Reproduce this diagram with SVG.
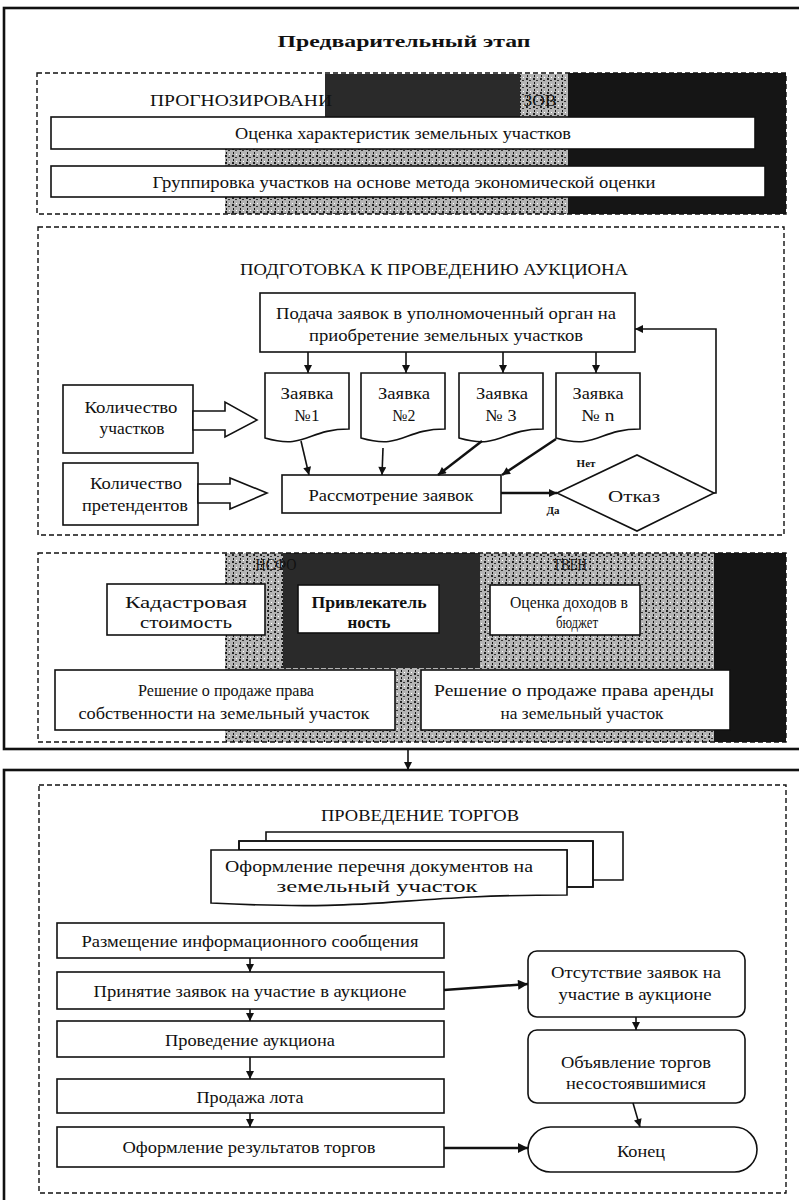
<svg xmlns="http://www.w3.org/2000/svg" width="799" height="1200" viewBox="0 0 799 1200">
<defs>
<style>
.t{font-family:"Liberation Serif","Times New Roman",serif;font-size:17px;fill:#111;text-anchor:middle}
.b{font-weight:bold}
.sm{font-size:11px;font-weight:bold}
.box{fill:#fff;stroke:#111;stroke-width:1.6}
.dash{fill:none;stroke:#111;stroke-width:1.4;stroke-dasharray:5 3}
.frame{fill:none;stroke:#111;stroke-width:2.6}
.ln{fill:none;stroke:#111;stroke-width:1.6}
.lnb{fill:none;stroke:#111;stroke-width:2.4}
.blk{fill:#fff;stroke:#111;stroke-width:1.6}
</style>
<pattern id="speck" width="7" height="7" patternUnits="userSpaceOnUse">
<rect width="7" height="7" fill="#b4b4b4"/>
<rect x="1" y="1" width="2" height="2" fill="#222"/>
<rect x="4" y="3" width="2" height="1" fill="#333"/>
<rect x="2" y="5" width="1" height="2" fill="#111"/>
<rect x="5" y="0" width="1" height="1" fill="#fff"/>
</pattern>
<marker id="ah" viewBox="0 0 10 10" refX="10" refY="5" markerWidth="9" markerHeight="8" markerUnits="userSpaceOnUse" orient="auto">
<path d="M0,0 L10,5 L0,10 Z" fill="#111"/>
</marker>
<marker id="ahL" viewBox="0 0 10 10" refX="10" refY="5" markerWidth="12" markerHeight="10" markerUnits="userSpaceOnUse" orient="auto">
<path d="M0,0 L10,5 L0,10 Z" fill="#111"/>
</marker>
</defs>

<!-- scan noise patches -->
<g id="noise">
<rect x="325" y="74" width="195" height="43" fill="#2a2a2a"/>
<rect x="520" y="74" width="48" height="43" fill="url(#speck)"/>
<rect x="225" y="148" width="475" height="18" fill="url(#speck)"/>
<rect x="225" y="197" width="465" height="17" fill="url(#speck)"/>
<rect x="568" y="73" width="218" height="141" fill="#151515"/>
<rect x="225" y="553" width="489" height="189" fill="url(#speck)"/>
<rect x="283" y="553" width="197" height="115" fill="#2a2a2a"/>
<rect x="714" y="553" width="72" height="189" fill="#151515"/>
</g>

<!-- frames -->
<rect class="frame" x="4" y="8" width="800" height="741"/>
<rect class="frame" x="4" y="770" width="800" height="440"/>

<g id="title"><text class="t b" x="404" y="47" font-size="19" textLength="253" lengthAdjust="spacingAndGlyphs">Предварительный этап</text></g>

<!-- section 1 -->
<g id="sec1">
<rect class="dash" x="37" y="73" width="749" height="141"/>
<text class="t" x="241" y="106" font-size="16" textLength="182" lengthAdjust="spacingAndGlyphs">ПРОГНОЗИРОВАНИ</text>
<text class="t" x="540" y="106" font-size="16" textLength="33" lengthAdjust="spacingAndGlyphs">ЗОВ</text>
</g>
<g id="n_ocenka"><rect class="box" x="51" y="117" width="704" height="32"/>
<text class="t" x="403" y="139" textLength="336" lengthAdjust="spacingAndGlyphs">Оценка характеристик земельных участков</text></g>
<g id="n_grupp"><rect class="box" x="51" y="166" width="714" height="31"/>
<text class="t" x="404" y="188" textLength="503" lengthAdjust="spacingAndGlyphs">Группировка участков на основе метода экономической оценки</text></g>

<!-- section 2 -->
<g id="sec2">
<rect class="dash" x="38" y="227" width="746" height="308"/>
<text class="t" x="434" y="275" font-size="18" textLength="388" lengthAdjust="spacingAndGlyphs">ПОДГОТОВКА К ПРОВЕДЕНИЮ АУКЦИОНА</text>
</g>
<g id="n_podacha"><rect class="box" x="260" y="293" width="375" height="59"/>
<text class="t" x="446" y="319" textLength="340" lengthAdjust="spacingAndGlyphs">Подача заявок в уполномоченный орган на</text>
<text class="t" x="446" y="341" textLength="274" lengthAdjust="spacingAndGlyphs">приобретение земельных участков</text></g>
<g id="n_z1"><path class="box" d="M265,373 H349 V429 C307,429 307,450 265,438 Z"/>
<text class="t" x="307" y="399" textLength="53" lengthAdjust="spacingAndGlyphs">Заявка</text>
<text class="t" x="307" y="421" textLength="25" lengthAdjust="spacingAndGlyphs">№1</text></g>
<g id="n_z2"><path class="box" d="M361,373 H445 V429 C403,429 403,450 361,438 Z"/>
<text class="t" x="404" y="399" textLength="52" lengthAdjust="spacingAndGlyphs">Заявка</text>
<text class="t" x="404" y="421" textLength="23" lengthAdjust="spacingAndGlyphs">№2</text></g>
<g id="n_z3"><path class="box" d="M459,373 H543 V429 C501,429 501,450 459,438 Z"/>
<text class="t" x="502" y="399" textLength="52" lengthAdjust="spacingAndGlyphs">Заявка</text>
<text class="t" x="501" y="421" textLength="31" lengthAdjust="spacingAndGlyphs">№ 3</text></g>
<g id="n_zn"><path class="box" d="M556,373 H640 V429 C598,429 598,450 556,438 Z"/>
<text class="t" x="598" y="399" textLength="51" lengthAdjust="spacingAndGlyphs">Заявка</text>
<text class="t" x="598" y="421" textLength="33" lengthAdjust="spacingAndGlyphs">№ n</text></g>
<g id="n_kuch"><rect class="box" x="63" y="385" width="130" height="68"/>
<text class="t" x="131" y="413" textLength="93" lengthAdjust="spacingAndGlyphs">Количество</text>
<text class="t" x="132" y="434" textLength="65" lengthAdjust="spacingAndGlyphs">участков</text></g>
<g id="n_kpr"><rect class="box" x="63" y="463" width="135" height="62"/>
<text class="t" x="136" y="489" textLength="92" lengthAdjust="spacingAndGlyphs">Количество</text>
<text class="t" x="135" y="511" textLength="106" lengthAdjust="spacingAndGlyphs">претендентов</text></g>
<g id="n_rassm"><rect class="box" x="282" y="475" width="219" height="38"/>
<text class="t" x="391" y="501" textLength="165" lengthAdjust="spacingAndGlyphs">Рассмотрение заявок</text></g>
<g id="n_otkaz"><polygon class="box" points="557,493 637,455 714,493 637,531"/>
<text class="t" x="634" y="502" textLength="52" lengthAdjust="spacingAndGlyphs">Отказ</text></g>
<text class="t sm" x="586" y="467">Нет</text>
<text class="t sm" x="553" y="514" font-size="9">Да</text>

<!-- section 3 -->
<g id="sec3">
<rect class="dash" x="38" y="553" width="748" height="189"/>
<text class="t" x="276" y="570" font-size="16" textLength="41" lengthAdjust="spacingAndGlyphs">НСФО</text>
<text class="t" x="570" y="570" font-size="16" textLength="34" lengthAdjust="spacingAndGlyphs">ТВЕН</text>
</g>
<g id="n_kad"><rect class="box" x="107" y="584" width="158" height="51"/>
<text class="t" x="186" y="608" textLength="122" lengthAdjust="spacingAndGlyphs">Кадастровая</text>
<text class="t" x="186" y="628" textLength="92" lengthAdjust="spacingAndGlyphs">стоимость</text></g>
<g id="n_priv"><rect class="box" x="298" y="585" width="141" height="48"/>
<text class="t b" x="369" y="608" textLength="115" lengthAdjust="spacingAndGlyphs">Привлекатель</text>
<text class="t b" x="369" y="628" textLength="43" lengthAdjust="spacingAndGlyphs">ность</text></g>
<g id="n_doh"><rect class="box" x="490" y="585" width="150" height="50"/>
<text class="t" x="569" y="608" textLength="118" lengthAdjust="spacingAndGlyphs">Оценка доходов в</text>
<text class="t" x="577" y="628" textLength="42" lengthAdjust="spacingAndGlyphs">бюджет</text></g>
<g id="n_sob"><rect class="box" x="55" y="670" width="340" height="60"/>
<text class="t" x="226" y="696" textLength="176" lengthAdjust="spacingAndGlyphs">Решение о продаже права</text>
<text class="t" x="224" y="719" textLength="291" lengthAdjust="spacingAndGlyphs">собственности на земельный участок</text></g>
<g id="n_ar"><rect class="box" x="421" y="670" width="309" height="60"/>
<text class="t" x="574" y="696" textLength="280" lengthAdjust="spacingAndGlyphs">Решение о продаже права аренды</text>
<text class="t" x="582" y="719" textLength="163" lengthAdjust="spacingAndGlyphs">на земельный участок</text></g>

<!-- section 4 -->
<g id="sec4">
<rect class="dash" x="39" y="785" width="747" height="408"/>
<text class="t" x="420" y="821" font-size="18" textLength="198" lengthAdjust="spacingAndGlyphs">ПРОВЕДЕНИЕ ТОРГОВ</text>
</g>
<g id="n_perech">
<path class="ln" d="M266,842 V832 H623 V880 H593"/>
<path class="box" d="M239,850 V841 H593 V887 H567 V850 Z" stroke="none"/>
<path class="ln" d="M239,850 V841 H593 V887 H567"/>
<path class="box" d="M211,850 H567 V895 C389,895 389,912 211,903 Z"/>
<text class="t" x="379" y="872" textLength="308" lengthAdjust="spacingAndGlyphs">Оформление перечня документов на</text>
<text class="t" x="377" y="892" textLength="201" lengthAdjust="spacingAndGlyphs">земельный участок</text></g>
<g id="n_razm"><rect class="box" x="57" y="923" width="387" height="35"/>
<text class="t" x="250" y="947" textLength="337" lengthAdjust="spacingAndGlyphs">Размещение информационного сообщения</text></g>
<g id="n_prin"><rect class="box" x="57" y="972" width="387" height="37"/>
<text class="t" x="250" y="997" textLength="313" lengthAdjust="spacingAndGlyphs">Принятие заявок на участие в аукционе</text></g>
<g id="n_prov"><rect class="box" x="57" y="1021" width="387" height="36"/>
<text class="t" x="250" y="1046" textLength="170" lengthAdjust="spacingAndGlyphs">Проведение аукциона</text></g>
<g id="n_prod"><rect class="box" x="57" y="1079" width="387" height="34"/>
<text class="t" x="250" y="1103" textLength="107" lengthAdjust="spacingAndGlyphs">Продажа лота</text></g>
<g id="n_ofres"><rect class="box" x="57" y="1127" width="387" height="40"/>
<text class="t" x="249" y="1153" textLength="253" lengthAdjust="spacingAndGlyphs">Оформление результатов торгов</text></g>
<g id="n_otsut"><rect class="box" x="528" y="951" width="217" height="66" rx="9"/>
<text class="t" x="636" y="978" textLength="170" lengthAdjust="spacingAndGlyphs">Отсутствие заявок на</text>
<text class="t" x="635" y="1000" textLength="153" lengthAdjust="spacingAndGlyphs">участие в аукционе</text></g>
<g id="n_obyav"><rect class="box" x="528" y="1030" width="217" height="73" rx="9"/>
<text class="t" x="636" y="1068" textLength="150" lengthAdjust="spacingAndGlyphs">Объявление торгов</text>
<text class="t" x="636" y="1089" textLength="140" lengthAdjust="spacingAndGlyphs">несостоявшимися</text></g>
<g id="n_konec"><rect class="box" x="528" y="1127" width="229" height="45" rx="22.5"/>
<text class="t" x="641" y="1157" textLength="48" lengthAdjust="spacingAndGlyphs">Конец</text></g>

<!-- connectors -->
<g id="connectors">
<line class="ln" x1="308" y1="352" x2="308" y2="373" marker-end="url(#ah)"/>
<line class="ln" x1="406" y1="352" x2="406" y2="373" marker-end="url(#ah)"/>
<line class="ln" x1="503" y1="352" x2="503" y2="373" marker-end="url(#ah)"/>
<line class="ln" x1="596" y1="352" x2="596" y2="373" marker-end="url(#ah)"/>
<line class="ln" x1="301" y1="441" x2="309" y2="475" marker-end="url(#ah)"/>
<line class="ln" x1="383" y1="448" x2="382" y2="475" marker-end="url(#ah)"/>
<line class="lnb" x1="482" y1="441" x2="438" y2="475" marker-end="url(#ah)"/>
<line class="lnb" x1="556" y1="439" x2="502" y2="475" marker-end="url(#ah)"/>
<line class="lnb" x1="501" y1="493" x2="557" y2="493" marker-end="url(#ah)"/>
<path class="ln" d="M714,493 H716 V329 H635" marker-end="url(#ah)"/>
<polygon class="blk" points="193,411 225,411 225,402 257,420 225,437 225,430 193,430"/>
<polygon class="blk" points="198,484 230,484 230,478 267,493 230,509 230,503 198,503"/>
<line class="ln" x1="408" y1="749" x2="408" y2="770" marker-end="url(#ah)"/>
<line class="ln" x1="250" y1="958" x2="250" y2="972" marker-end="url(#ah)"/>
<line class="ln" x1="250" y1="1009" x2="250" y2="1021" marker-end="url(#ah)"/>
<line class="ln" x1="250" y1="1057" x2="250" y2="1079" marker-end="url(#ah)"/>
<line class="ln" x1="250" y1="1113" x2="250" y2="1127" marker-end="url(#ah)"/>
<line class="lnb" x1="444" y1="990" x2="528" y2="984" marker-end="url(#ahL)"/>
<line class="ln" x1="636" y1="1017" x2="636" y2="1030" marker-end="url(#ah)"/>
<line class="ln" x1="633" y1="1103" x2="640" y2="1127" marker-end="url(#ah)"/>
<line class="lnb" x1="444" y1="1148" x2="528" y2="1148" marker-end="url(#ahL)"/>
</g>
</svg>
